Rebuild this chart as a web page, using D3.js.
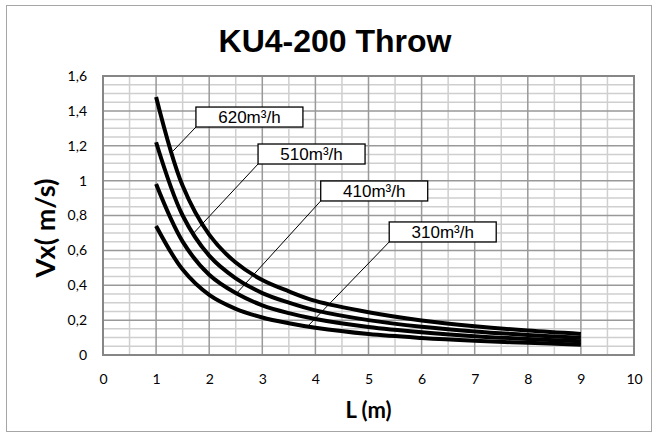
<!DOCTYPE html>
<html lang="en">
<head>
  <meta charset="UTF-8">
  <title>KU4-200 Throw</title>
  <script src="https://d3js.org/d3.v7.min.js"></script>
  <style>
    body { margin: 0; background: #fff; }
    svg text { font-family: Lato, "Open Sans", sans-serif; }
  </style>
</head>
<body>
  <svg id="chart" width="658" height="437"></svg>

  <script>
    // distance L (m)
    const distances = [1, 1.5, 2, 2.5, 3, 3.5, 4, 5, 6, 7, 8, 9];
    // Vx (m/s) for each airflow
    const v620 = [1.48, 0.97, 0.69, 0.53, 0.43, 0.365, 0.31, 0.245, 0.198, 0.165, 0.14, 0.121];
    const v510 = [1.22, 0.80, 0.57, 0.44, 0.355, 0.30, 0.256, 0.2, 0.162, 0.135, 0.115, 0.099];
    const v410 = [0.98, 0.65, 0.46, 0.355, 0.285, 0.24, 0.206, 0.16, 0.13, 0.108, 0.092, 0.079];
    const v310 = [0.74, 0.49, 0.345, 0.265, 0.215, 0.182, 0.156, 0.12, 0.098, 0.082, 0.07, 0.059];
    const seriesNames = ["620m³/h", "510m³/h", "410m³/h", "310m³/h"];

    const xTicks = [0, 1, 2, 3, 4, 5, 6, 7, 8, 9, 10];
    const yTicks = [0, 0.2, 0.4, 0.6, 0.8, 1, 1.2, 1.4, 1.6];

    // callout boxes: top-left corner of the box and the point it points at, in data units
    const boxL = [1.75, 2.92, 4.1, 5.39];
    const boxV = [1.422, 1.21, 0.998, 0.763];
    const pointL = [1.32, 1.68, 2.52, 3.84];
    const pointV = [1.17, 0.69, 0.355, 0.16];

    const svg = d3.select("#chart");
    const margin = { top: 76, right: 24, bottom: 82, left: 103 };
    const width = 658 - margin.left - margin.right;
    const height = 437 - margin.top - margin.bottom;

    // outer chart border
    svg.append("rect")
      .attr("x", 6.5).attr("y", 5.5)
      .attr("width", 645).attr("height", 426)
      .attr("fill", "none")
      .attr("stroke", "#a6a6a6");

    svg.append("text")
      .attr("x", 335).attr("y", 52)
      .attr("text-anchor", "middle")
      .style("font-family", "'Liberation Sans', Arial, sans-serif")
      .style("font-weight", "bold")
      .style("font-size", "32px")
      .text("KU4-200 Throw");

    const g = svg.append("g")
      .attr("transform", "translate(" + margin.left + "," + margin.top + ")");

    const x = d3.scaleLinear().domain([0, 10]).range([0, width]);
    const y = d3.scaleLinear().domain([0, 1.6]).range([height, 0]);

    // minor grid
    g.append("g").selectAll("line")
      .data(d3.range(0, 10.01, 0.5).filter(d => d % 1 !== 0))
      .enter().append("line")
      .attr("x1", d => x(d)).attr("x2", d => x(d))
      .attr("y1", 0).attr("y2", height)
      .attr("stroke", "#cfcfcf").attr("stroke-width", 1.5);

    g.append("g").selectAll("line")
      .data(d3.range(0, 1.601, 0.05).filter(d => Math.abs(d / 0.2 - Math.round(d / 0.2)) > 0.01))
      .enter().append("line")
      .attr("x1", 0).attr("x2", width)
      .attr("y1", d => y(d)).attr("y2", d => y(d))
      .attr("stroke", "#cfcfcf").attr("stroke-width", 1.5);

    // major grid
    g.append("g").selectAll("line")
      .data(xTicks)
      .enter().append("line")
      .attr("x1", d => x(d)).attr("x2", d => x(d))
      .attr("y1", 0).attr("y2", height)
      .attr("stroke", "#999").attr("stroke-width", 1.5);

    g.append("g").selectAll("line")
      .data(yTicks)
      .enter().append("line")
      .attr("x1", 0).attr("x2", width)
      .attr("y1", d => y(d)).attr("y2", d => y(d))
      .attr("stroke", "#999").attr("stroke-width", 1.5);

    g.append("rect")
      .attr("width", width).attr("height", height)
      .attr("fill", "none")
      .attr("stroke", "#868686").attr("stroke-width", 2);

    // axes (labels only)
    const xAxis = g.append("g")
      .attr("transform", "translate(0," + height + ")")
      .call(d3.axisBottom(x).tickValues(xTicks).tickSize(0).tickPadding(19));
    const yAxis = g.append("g")
      .call(d3.axisLeft(y).tickValues(yTicks).tickSize(0).tickPadding(16)
        .tickFormat(d => String(d).replace(".", ",")));
    [xAxis, yAxis].forEach(a => {
      a.select(".domain").remove();
      a.selectAll("text")
        .style("font-family", "Lato, 'Open Sans', sans-serif")
        .style("font-size", "14px")
        .attr("fill", "#000");
    });

    svg.append("text")
      .attr("x", margin.left + width / 2).attr("y", 418)
      .attr("text-anchor", "middle")
      .style("font-weight", "bold")
      .style("font-size", "22px")
      .text("L (m)");

    svg.append("text")
      .attr("transform", "translate(55,228) rotate(-90)")
      .attr("text-anchor", "middle")
      .style("font-weight", "bold")
      .style("font-size", "27px")
      .text("Vx( m/s)");

    // curves
    const series = [v620, v510, v410, v310];
    const line = d3.line()
      .x((d, i) => x(distances[i]))
      .y(d => y(d))
      .curve(d3.curveCatmullRom.alpha(0.5));

    g.append("g").selectAll("path")
      .data(series)
      .enter().append("path")
      .attr("d", line)
      .attr("fill", "none")
      .attr("stroke", "#000")
      .attr("stroke-width", 4);

    // callouts
    const boxW = 107, boxH = 20;
    const callouts = g.append("g").selectAll("g")
      .data(seriesNames)
      .enter().append("g");

    callouts.append("line")
      .attr("x1", (d, i) => x(boxL[i]))
      .attr("y1", (d, i) => y(boxV[i]) + boxH)
      .attr("x2", (d, i) => x(pointL[i]))
      .attr("y2", (d, i) => y(pointV[i]))
      .attr("stroke", "#000").attr("stroke-width", 1);

    callouts.append("rect")
      .attr("x", (d, i) => x(boxL[i]))
      .attr("y", (d, i) => y(boxV[i]))
      .attr("width", boxW).attr("height", boxH)
      .attr("fill", "#fff")
      .attr("stroke", "#000").attr("stroke-width", 1.3);

    callouts.append("text")
      .attr("x", (d, i) => x(boxL[i]) + boxW / 2)
      .attr("y", (d, i) => y(boxV[i]) + 16)
      .attr("text-anchor", "middle")
      .style("font-family", "'Liberation Sans', Arial, sans-serif")
      .style("font-size", "17px")
      .text(d => d);
  </script>
</body>
</html>
